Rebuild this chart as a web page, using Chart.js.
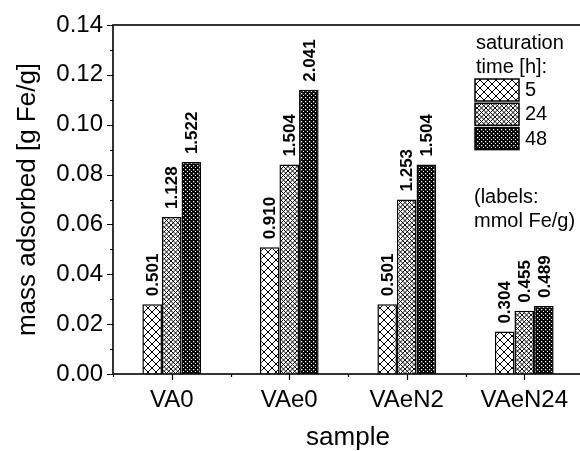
<!DOCTYPE html>
<html><head><meta charset="utf-8">
<script src="https://cdn.jsdelivr.net/npm/chart.js@4/dist/chart.umd.min.js"></script>
<style>
html,body{margin:0;padding:0;overflow:hidden;background:#fff;width:580px;height:451px}
#wrap{position:relative;width:590px;height:451px}
</style></head>
<body><div id="wrap"><canvas id="c" width="590" height="451"></canvas></div>
<script>
// ---- data ----
const categories = ['VA0', 'VAe0', 'VAeN2', 'VAeN24'];
const seriesNames = ['5', '24', '48'];
const mass5  = [0.028, 0.0508, 0.028, 0.017];
const mass24 = [0.063, 0.084, 0.070, 0.0254];
const mass48 = [0.085, 0.114, 0.084, 0.0273];
const mmol5  = ['0.501', '0.910', '0.501', '0.304'];
const mmol24 = ['1.128', '1.504', '1.253', '0.455'];
const mmol48 = ['1.522', '2.041', '1.504', '0.489'];
const yMin = 0, yMax = 0.14, yStep = 0.02, yMinorStep = 0.01;
const legendTitle = ['saturation', 'time [h]:'];
const legendNote = ['(labels:', 'mmol Fe/g)'];

const FONT = '"Liberation Sans", Arial, Helvetica, sans-serif';

// ---- patterns ----
function crossHatch(p, lw, size) {
  const c = document.createElement('canvas'); c.width = c.height = size;
  const g = c.getContext('2d');
  g.fillStyle = '#fff'; g.fillRect(0, 0, size, size);
  g.strokeStyle = '#000'; g.lineWidth = lw; g.beginPath();
  for (let o = -2 * size; o <= 2 * size; o += p) {
    g.moveTo(o - size, -size); g.lineTo(o + 2 * size, 2 * size);
    g.moveTo(o + size, -size); g.lineTo(o - 2 * size, 2 * size);
  }
  g.stroke();
  return g.createPattern(c, 'repeat');
}
function dots(size, r) {
  const c = document.createElement('canvas'); c.width = c.height = size;
  const g = c.getContext('2d');
  g.fillStyle = '#000'; g.fillRect(0, 0, size, size);
  g.fillStyle = '#fff';
  g.fillRect(1, 1, r, r);
  g.fillRect(1 + size / 2, 1 + size / 2, r, r);
  return g.createPattern(c, 'repeat');
}
const patterns = [crossHatch(8, 1, 8), crossHatch(4.5, 1, 9), dots(4, 1.3)];

// ---- plugins ----
const framePlugin = {
  id: 'frame',
  afterDatasetsDraw(chart) {
    const { ctx, chartArea: a, scales: { x, y } } = chart;
    ctx.save();
    ctx.strokeStyle = '#000'; ctx.lineWidth = 1.6;
    ctx.strokeRect(a.left, a.top, a.right - a.left, a.bottom - a.top);
    ctx.lineWidth = 1.2;
    ctx.beginPath();
    const n = Math.round((yMax - yMin) / yMinorStep);
    for (let i = 0; i <= n; i++) {
      const v = yMin + i * yMinorStep;
      const py = Math.round(y.getPixelForValue(v)) + 0.5;
      const len = (i % 2 === 0) ? 6 : 3;
      ctx.moveTo(a.left, py); ctx.lineTo(a.left - len, py);
    }
    categories.forEach((c, i) => {
      const px = Math.round(x.getPixelForValue(i)) + 0.5;
      ctx.moveTo(px, a.bottom); ctx.lineTo(px, a.bottom + 6);
    });
    for (let i = 0; i <= categories.length; i++) {
      const px = Math.round((x.getPixelForValue(i - 0.5))) + 0.5;
      ctx.moveTo(px, a.bottom); ctx.lineTo(px, a.bottom + 3);
    }
    ctx.stroke();
    ctx.restore();
  }
};
const valueLabelPlugin = {
  id: 'valueLabels',
  afterDatasetsDraw(chart) {
    const ctx = chart.ctx;
    chart.data.datasets.forEach((ds, i) => {
      chart.getDatasetMeta(i).data.forEach((bar, j) => {
        ctx.save();
        ctx.translate(bar.x, bar.y - 8);
        ctx.rotate(-Math.PI / 2);
        ctx.font = 'bold 17px ' + FONT;
        ctx.fillStyle = '#000';
        ctx.textAlign = 'left'; ctx.textBaseline = 'middle';
        ctx.fillText(ds.valueLabels[j], 0, 1);
        ctx.restore();
      });
    });
  }
};
const legendPlugin = {
  id: 'customLegend',
  afterDraw(chart) {
    const ctx = chart.ctx;
    ctx.save();
    ctx.font = '20px ' + FONT; ctx.fillStyle = '#000';
    ctx.textAlign = 'left'; ctx.textBaseline = 'middle';
    const lx = 476;
    legendTitle.forEach((t, i) => ctx.fillText(t, lx, 43 + i * 24));
    chart.data.datasets.forEach((ds, i) => {
      const top = 79 + i * 24.3;
      ctx.fillStyle = ds.backgroundColor;
      ctx.fillRect(lx - 1, top, 44, 22);
      ctx.strokeStyle = '#000'; ctx.lineWidth = 1.5;
      ctx.strokeRect(lx - 1, top, 44, 22);
      ctx.fillStyle = '#000';
      ctx.fillText(ds.label, lx + 49, top + 11.5);
    });
    legendNote.forEach((t, i) => ctx.fillText(t, lx - 2, 197 + i * 24));
    ctx.restore();
  }
};

Chart.defaults.color = '#000';
Chart.defaults.font.family = FONT;

new Chart(document.getElementById('c'), {
  type: 'bar',
  data: {
    labels: categories,
    datasets: [
      { label: seriesNames[0], data: mass5,  valueLabels: mmol5,  backgroundColor: patterns[0] },
      { label: seriesNames[1], data: mass24, valueLabels: mmol24, backgroundColor: patterns[1] },
      { label: seriesNames[2], data: mass48, valueLabels: mmol48, backgroundColor: patterns[2] }
    ].map(d => Object.assign(d, { borderColor: '#000', borderWidth: 1.5, categoryPercentage: 0.5, barPercentage: 1.0 }))
  },
  options: {
    responsive: false,
    animation: false,
    devicePixelRatio: 1,
    layout: { padding: { left: 0, right: 7, top: 25, bottom: 0 }, autoPadding: false },
    plugins: { legend: { display: false }, tooltip: { enabled: false } },
    scales: {
      x: {
        grid: { display: false, drawTicks: false },
        border: { display: false },
        ticks: { font: { size: 24 }, padding: 12, maxRotation: 0 },
        title: { display: true, text: 'sample', font: { size: 26, lineHeight: 1 }, padding: { top: 0, bottom: 0 } },
        afterFit(s) { s.height = 77; }
      },
      y: {
        min: yMin, max: yMax,
        grid: { display: false, drawTicks: false },
        border: { display: false },
        ticks: { stepSize: yStep, font: { size: 24 }, padding: 10, callback: v => v.toFixed(2) },
        title: { display: true, text: 'mass adsorbed [g Fe/g]', font: { size: 26, lineHeight: 1.2 }, padding: { top: 12, bottom: 0 } },
        afterFit(s) { s.width = 113; }
      }
    }
  },
  plugins: [framePlugin, valueLabelPlugin, legendPlugin]
});
</script>
</body></html>
